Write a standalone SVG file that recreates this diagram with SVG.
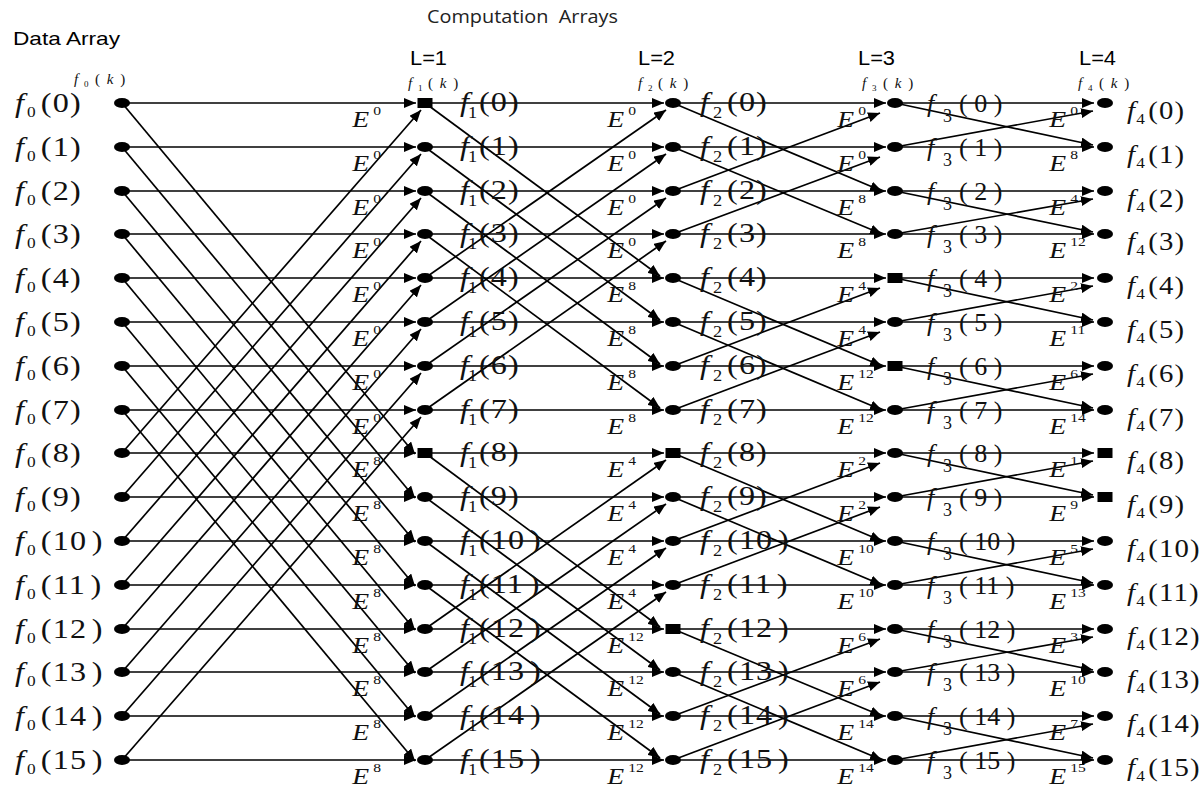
<svg xmlns="http://www.w3.org/2000/svg" width="1204" height="792" viewBox="0 0 1204 792">
<defs>
<marker id="ah" viewBox="0 0 12 10" refX="12" refY="5" markerWidth="12" markerHeight="10" markerUnits="userSpaceOnUse" orient="auto"><path d="M0,0 L12,5 L0,10 z" fill="#000"/></marker>
<style>
.ln{fill:none;stroke:#000;stroke-width:1.7;marker-end:url(#ah)}
.t{font-family:"Liberation Serif","Times New Roman",serif;fill:#111}
.i{font-style:italic}
.a{font-size:28px}
.b{font-size:26px}
.c{font-size:25px}
.s0{font-size:15px}
.s1{font-size:16px}
.s3{font-size:18px}
.s4{font-size:15px}
.q{letter-spacing:1px;word-spacing:-4px}
.sx{transform-box:fill-box;transform-origin:0 0;transform:scaleX(1.15)}
.e{font-size:23px;font-style:italic;transform-box:fill-box;transform-origin:0 0;transform:scaleX(1.2)}
.p{font-size:13px;font-style:normal}
.k{font-size:15px;letter-spacing:1.5px}
.ks{font-size:9px}
.h{font-family:"Liberation Sans",Arial,sans-serif;fill:#000}
</style>
</defs>
<rect width="1204" height="792" fill="#fff"/>
<g id="titles">
<text class="h" x="13" y="45" font-size="19" textLength="107" lengthAdjust="spacingAndGlyphs">Data Array</text>
<text x="427" y="23" font-family="'Open Sans',sans-serif" font-size="18" fill="#222" textLength="191" lengthAdjust="spacingAndGlyphs" xml:space="preserve">Computation  Arrays</text>
<text class="h" x="410" y="65" font-size="21" textLength="37" lengthAdjust="spacingAndGlyphs">L=1</text>
<text class="h" x="638" y="65" font-size="21" textLength="37" lengthAdjust="spacingAndGlyphs">L=2</text>
<text class="h" x="858" y="65" font-size="21" textLength="37" lengthAdjust="spacingAndGlyphs">L=3</text>
<text class="h" x="1079" y="65" font-size="21" textLength="37" lengthAdjust="spacingAndGlyphs">L=4</text>
<text class="t k"><tspan class="i" x="74" y="84">f</tspan><tspan class="ks" x="84" y="87">0</tspan><tspan x="95" y="84">( </tspan><tspan class="i">k</tspan><tspan> )</tspan></text>
<text class="t k"><tspan class="i" x="408" y="88">f</tspan><tspan class="ks" x="418" y="91">1</tspan><tspan x="428" y="88">( </tspan><tspan class="i">k</tspan><tspan> )</tspan></text>
<text class="t k"><tspan class="i" x="638" y="88">f</tspan><tspan class="ks" x="648" y="91">2</tspan><tspan x="658" y="88">( </tspan><tspan class="i">k</tspan><tspan> )</tspan></text>
<text class="t k"><tspan class="i" x="862" y="88">f</tspan><tspan class="ks" x="872" y="91">3</tspan><tspan x="883" y="88">( </tspan><tspan class="i">k</tspan><tspan> )</tspan></text>
<text class="t k"><tspan class="i" x="1078" y="88">f</tspan><tspan class="ks" x="1088" y="91">4</tspan><tspan x="1099" y="88">( </tspan><tspan class="i">k</tspan><tspan> )</tspan></text>
</g>
<g id="connectors">
<path class="ln" d="M122 103H416"/><path class="ln" d="M122 147H416"/><path class="ln" d="M122 191H416"/><path class="ln" d="M122 234H416"/>
<path class="ln" d="M122 278H416"/><path class="ln" d="M122 322H416"/><path class="ln" d="M122 366H416"/><path class="ln" d="M122 410H416"/>
<path class="ln" d="M122 453H416"/><path class="ln" d="M122 497H416"/><path class="ln" d="M122 541H416"/><path class="ln" d="M122 585H416"/>
<path class="ln" d="M122 629H416"/><path class="ln" d="M122 672H416"/><path class="ln" d="M122 716H416"/><path class="ln" d="M122 760H416"/>
<path class="ln" d="M122 103L415 454"/><path class="ln" d="M122 147L415 498"/><path class="ln" d="M122 191L415 542"/><path class="ln" d="M122 234L415 586"/>
<path class="ln" d="M122 278L415 630"/><path class="ln" d="M122 322L415 673"/><path class="ln" d="M122 366L415 717"/><path class="ln" d="M122 410L415 761"/>
<path class="ln" d="M122 453L421 110"/><path class="ln" d="M122 497L421 154"/><path class="ln" d="M122 541L421 198"/><path class="ln" d="M122 585L421 241"/>
<path class="ln" d="M122 629L421 285"/><path class="ln" d="M122 672L421 329"/><path class="ln" d="M122 716L421 373"/><path class="ln" d="M122 760L421 417"/>
<path class="ln" d="M425 103H664"/><path class="ln" d="M425 147H664"/><path class="ln" d="M425 191H664"/><path class="ln" d="M425 234H664"/>
<path class="ln" d="M425 278H664"/><path class="ln" d="M425 322H664"/><path class="ln" d="M425 366H664"/><path class="ln" d="M425 410H664"/>
<path class="ln" d="M425 453H664"/><path class="ln" d="M425 497H664"/><path class="ln" d="M425 541H664"/><path class="ln" d="M425 585H664"/>
<path class="ln" d="M425 629H664"/><path class="ln" d="M425 672H664"/><path class="ln" d="M425 716H664"/><path class="ln" d="M425 760H664"/>
<path class="ln" d="M425 103L660 276"/><path class="ln" d="M425 147L660 320"/><path class="ln" d="M425 191L660 364"/><path class="ln" d="M425 234L660 408"/>
<path class="ln" d="M425 453L660 627"/><path class="ln" d="M425 497L660 670"/><path class="ln" d="M425 541L660 714"/><path class="ln" d="M425 585L660 758"/>
<path class="ln" d="M425 278L666 110"/><path class="ln" d="M425 322L666 154"/><path class="ln" d="M425 366L666 198"/><path class="ln" d="M425 410L666 241"/>
<path class="ln" d="M425 629L666 460"/><path class="ln" d="M425 672L666 504"/><path class="ln" d="M425 716L666 548"/><path class="ln" d="M425 760L666 592"/>
<path class="ln" d="M673 103H886"/><path class="ln" d="M673 147H886"/><path class="ln" d="M673 191H886"/><path class="ln" d="M673 234H886"/>
<path class="ln" d="M673 278H886"/><path class="ln" d="M673 322H886"/><path class="ln" d="M673 366H886"/><path class="ln" d="M673 410H886"/>
<path class="ln" d="M673 453H886"/><path class="ln" d="M673 497H886"/><path class="ln" d="M673 541H886"/><path class="ln" d="M673 585H886"/>
<path class="ln" d="M673 629H886"/><path class="ln" d="M673 672H886"/><path class="ln" d="M673 716H886"/><path class="ln" d="M673 760H886"/>
<path class="ln" d="M673 103L882 191"/><path class="ln" d="M673 147L882 234"/><path class="ln" d="M673 278L882 366"/><path class="ln" d="M673 322L882 410"/>
<path class="ln" d="M673 453L882 541"/><path class="ln" d="M673 497L882 585"/><path class="ln" d="M673 629L882 716"/><path class="ln" d="M673 672L882 760"/>
<path class="ln" d="M673 191L880 113"/><path class="ln" d="M673 234L880 157"/><path class="ln" d="M673 366L880 288"/><path class="ln" d="M673 410L880 332"/>
<path class="ln" d="M673 541L880 463"/><path class="ln" d="M673 585L880 507"/><path class="ln" d="M673 716L880 639"/><path class="ln" d="M673 760L880 682"/>
<path class="ln" d="M895 103H1094"/><path class="ln" d="M895 147H1094"/><path class="ln" d="M895 191H1094"/><path class="ln" d="M895 234H1094"/>
<path class="ln" d="M895 278H1094"/><path class="ln" d="M895 322H1094"/><path class="ln" d="M895 366H1094"/><path class="ln" d="M895 410H1094"/>
<path class="ln" d="M895 453H1094"/><path class="ln" d="M895 497H1094"/><path class="ln" d="M895 541H1094"/><path class="ln" d="M895 585H1094"/>
<path class="ln" d="M895 629H1094"/><path class="ln" d="M895 672H1094"/><path class="ln" d="M895 716H1094"/><path class="ln" d="M895 760H1094"/>
<path class="ln" d="M895 103L1093 145"/><path class="ln" d="M895 191L1093 232"/><path class="ln" d="M895 278L1093 320"/><path class="ln" d="M895 366L1093 408"/>
<path class="ln" d="M895 453L1093 495"/><path class="ln" d="M895 541L1093 583"/><path class="ln" d="M895 629L1093 670"/><path class="ln" d="M895 716L1093 758"/>
<path class="ln" d="M895 147L1093 111"/><path class="ln" d="M895 234L1093 199"/><path class="ln" d="M895 322L1093 286"/><path class="ln" d="M895 410L1093 374"/>
<path class="ln" d="M895 497L1093 461"/><path class="ln" d="M895 585L1093 549"/><path class="ln" d="M895 672L1093 637"/><path class="ln" d="M895 760L1093 724"/>
</g>
<g id="col0">
<g id="n0-0"><ellipse cx="122" cy="103" rx="8" ry="5"/><text class="t a sx"><tspan class="i" x="15" y="112">f</tspan><tspan class="s0" x="25.5" y="117">0</tspan><tspan class="q" x="37.5" y="112">(0)</tspan></text></g>
<g id="n0-1"><ellipse cx="122" cy="147" rx="8" ry="5"/><text class="t a sx"><tspan class="i" x="15" y="156">f</tspan><tspan class="s0" x="25.5" y="161">0</tspan><tspan class="q" x="37.5" y="156">(1)</tspan></text></g>
<g id="n0-2"><ellipse cx="122" cy="191" rx="8" ry="5"/><text class="t a sx"><tspan class="i" x="15" y="200">f</tspan><tspan class="s0" x="25.5" y="205">0</tspan><tspan class="q" x="37.5" y="200">(2)</tspan></text></g>
<g id="n0-3"><ellipse cx="122" cy="234" rx="8" ry="5"/><text class="t a sx"><tspan class="i" x="15" y="243">f</tspan><tspan class="s0" x="25.5" y="248">0</tspan><tspan class="q" x="37.5" y="243">(3)</tspan></text></g>
<g id="n0-4"><ellipse cx="122" cy="278" rx="8" ry="5"/><text class="t a sx"><tspan class="i" x="15" y="287">f</tspan><tspan class="s0" x="25.5" y="292">0</tspan><tspan class="q" x="37.5" y="287">(4)</tspan></text></g>
<g id="n0-5"><ellipse cx="122" cy="322" rx="8" ry="5"/><text class="t a sx"><tspan class="i" x="15" y="331">f</tspan><tspan class="s0" x="25.5" y="336">0</tspan><tspan class="q" x="37.5" y="331">(5)</tspan></text></g>
<g id="n0-6"><ellipse cx="122" cy="366" rx="8" ry="5"/><text class="t a sx"><tspan class="i" x="15" y="375">f</tspan><tspan class="s0" x="25.5" y="380">0</tspan><tspan class="q" x="37.5" y="375">(6)</tspan></text></g>
<g id="n0-7"><ellipse cx="122" cy="410" rx="8" ry="5"/><text class="t a sx"><tspan class="i" x="15" y="419">f</tspan><tspan class="s0" x="25.5" y="424">0</tspan><tspan class="q" x="37.5" y="419">(7)</tspan></text></g>
<g id="n0-8"><ellipse cx="122" cy="453" rx="8" ry="5"/><text class="t a sx"><tspan class="i" x="15" y="462">f</tspan><tspan class="s0" x="25.5" y="467">0</tspan><tspan class="q" x="37.5" y="462">(8)</tspan></text></g>
<g id="n0-9"><ellipse cx="122" cy="497" rx="8" ry="5"/><text class="t a sx"><tspan class="i" x="15" y="506">f</tspan><tspan class="s0" x="25.5" y="511">0</tspan><tspan class="q" x="37.5" y="506">(9)</tspan></text></g>
<g id="n0-10"><ellipse cx="122" cy="541" rx="8" ry="5"/><text class="t a sx"><tspan class="i" x="15" y="550">f</tspan><tspan class="s0" x="25.5" y="555">0</tspan><tspan class="q" x="37.5" y="550">(10 )</tspan></text></g>
<g id="n0-11"><ellipse cx="122" cy="585" rx="8" ry="5"/><text class="t a sx"><tspan class="i" x="15" y="594">f</tspan><tspan class="s0" x="25.5" y="599">0</tspan><tspan class="q" x="37.5" y="594">(11 )</tspan></text></g>
<g id="n0-12"><ellipse cx="122" cy="629" rx="8" ry="5"/><text class="t a sx"><tspan class="i" x="15" y="638">f</tspan><tspan class="s0" x="25.5" y="643">0</tspan><tspan class="q" x="37.5" y="638">(12 )</tspan></text></g>
<g id="n0-13"><ellipse cx="122" cy="672" rx="8" ry="5"/><text class="t a sx"><tspan class="i" x="15" y="681">f</tspan><tspan class="s0" x="25.5" y="686">0</tspan><tspan class="q" x="37.5" y="681">(13 )</tspan></text></g>
<g id="n0-14"><ellipse cx="122" cy="716" rx="8" ry="5"/><text class="t a sx"><tspan class="i" x="15" y="725">f</tspan><tspan class="s0" x="25.5" y="730">0</tspan><tspan class="q" x="37.5" y="725">(14 )</tspan></text></g>
<g id="n0-15"><ellipse cx="122" cy="760" rx="8" ry="5"/><text class="t a sx"><tspan class="i" x="15" y="769">f</tspan><tspan class="s0" x="25.5" y="774">0</tspan><tspan class="q" x="37.5" y="769">(15 )</tspan></text></g>
</g>
<g id="col1">
<g id="n1-0"><rect x="417.5" y="98" width="15" height="10"/><text class="t a sx"><tspan class="i" x="460" y="111">f</tspan><tspan class="s1" x="467" y="118">1</tspan><tspan class="q" x="476.5" y="111">(0)</tspan></text></g>
<g id="n1-1"><ellipse cx="425" cy="147" rx="8" ry="5"/><text class="t a sx"><tspan class="i" x="460" y="155">f</tspan><tspan class="s1" x="467" y="162">1</tspan><tspan class="q" x="476.5" y="155">(1)</tspan></text></g>
<g id="n1-2"><ellipse cx="425" cy="191" rx="8" ry="5"/><text class="t a sx"><tspan class="i" x="460" y="199">f</tspan><tspan class="s1" x="467" y="206">1</tspan><tspan class="q" x="476.5" y="199">(2)</tspan></text></g>
<g id="n1-3"><ellipse cx="425" cy="234" rx="8" ry="5"/><text class="t a sx"><tspan class="i" x="460" y="242">f</tspan><tspan class="s1" x="467" y="249">1</tspan><tspan class="q" x="476.5" y="242">(3)</tspan></text></g>
<g id="n1-4"><ellipse cx="425" cy="278" rx="8" ry="5"/><text class="t a sx"><tspan class="i" x="460" y="286">f</tspan><tspan class="s1" x="467" y="293">1</tspan><tspan class="q" x="476.5" y="286">(4)</tspan></text></g>
<g id="n1-5"><ellipse cx="425" cy="322" rx="8" ry="5"/><text class="t a sx"><tspan class="i" x="460" y="330">f</tspan><tspan class="s1" x="467" y="337">1</tspan><tspan class="q" x="476.5" y="330">(5)</tspan></text></g>
<g id="n1-6"><ellipse cx="425" cy="366" rx="8" ry="5"/><text class="t a sx"><tspan class="i" x="460" y="374">f</tspan><tspan class="s1" x="467" y="381">1</tspan><tspan class="q" x="476.5" y="374">(6)</tspan></text></g>
<g id="n1-7"><ellipse cx="425" cy="410" rx="8" ry="5"/><text class="t a sx"><tspan class="i" x="460" y="418">f</tspan><tspan class="s1" x="467" y="425">1</tspan><tspan class="q" x="476.5" y="418">(7)</tspan></text></g>
<g id="n1-8"><rect x="417.5" y="448" width="15" height="10"/><text class="t a sx"><tspan class="i" x="460" y="461">f</tspan><tspan class="s1" x="467" y="468">1</tspan><tspan class="q" x="476.5" y="461">(8)</tspan></text></g>
<g id="n1-9"><ellipse cx="425" cy="497" rx="8" ry="5"/><text class="t a sx"><tspan class="i" x="460" y="505">f</tspan><tspan class="s1" x="467" y="512">1</tspan><tspan class="q" x="476.5" y="505">(9)</tspan></text></g>
<g id="n1-10"><ellipse cx="425" cy="541" rx="8" ry="5"/><text class="t a sx"><tspan class="i" x="460" y="549">f</tspan><tspan class="s1" x="467" y="556">1</tspan><tspan class="q" x="476.5" y="549">(10 )</tspan></text></g>
<g id="n1-11"><ellipse cx="425" cy="585" rx="8" ry="5"/><text class="t a sx"><tspan class="i" x="460" y="593">f</tspan><tspan class="s1" x="467" y="600">1</tspan><tspan class="q" x="476.5" y="593">(11 )</tspan></text></g>
<g id="n1-12"><ellipse cx="425" cy="629" rx="8" ry="5"/><text class="t a sx"><tspan class="i" x="460" y="637">f</tspan><tspan class="s1" x="467" y="644">1</tspan><tspan class="q" x="476.5" y="637">(12 )</tspan></text></g>
<g id="n1-13"><ellipse cx="425" cy="672" rx="8" ry="5"/><text class="t a sx"><tspan class="i" x="460" y="680">f</tspan><tspan class="s1" x="467" y="687">1</tspan><tspan class="q" x="476.5" y="680">(13 )</tspan></text></g>
<g id="n1-14"><ellipse cx="425" cy="716" rx="8" ry="5"/><text class="t a sx"><tspan class="i" x="460" y="724">f</tspan><tspan class="s1" x="467" y="731">1</tspan><tspan class="q" x="476.5" y="724">(14 )</tspan></text></g>
<g id="n1-15"><ellipse cx="425" cy="760" rx="8" ry="5"/><text class="t a sx"><tspan class="i" x="460" y="768">f</tspan><tspan class="s1" x="467" y="775">1</tspan><tspan class="q" x="476.5" y="768">(15 )</tspan></text></g>
</g>
<g id="col2">
<g id="n2-0"><ellipse cx="673" cy="103" rx="8" ry="5"/><text class="t a sx"><tspan class="i" x="700" y="111">f</tspan><tspan class="s1" x="711.3" y="118">2</tspan><tspan class="q" x="723.5" y="111">(0)</tspan></text></g>
<g id="n2-1"><ellipse cx="673" cy="147" rx="8" ry="5"/><text class="t a sx"><tspan class="i" x="700" y="155">f</tspan><tspan class="s1" x="711.3" y="162">2</tspan><tspan class="q" x="723.5" y="155">(1)</tspan></text></g>
<g id="n2-2"><ellipse cx="673" cy="191" rx="8" ry="5"/><text class="t a sx"><tspan class="i" x="700" y="199">f</tspan><tspan class="s1" x="711.3" y="206">2</tspan><tspan class="q" x="723.5" y="199">(2)</tspan></text></g>
<g id="n2-3"><ellipse cx="673" cy="234" rx="8" ry="5"/><text class="t a sx"><tspan class="i" x="700" y="242">f</tspan><tspan class="s1" x="711.3" y="249">2</tspan><tspan class="q" x="723.5" y="242">(3)</tspan></text></g>
<g id="n2-4"><ellipse cx="673" cy="278" rx="8" ry="5"/><text class="t a sx"><tspan class="i" x="700" y="286">f</tspan><tspan class="s1" x="711.3" y="293">2</tspan><tspan class="q" x="723.5" y="286">(4)</tspan></text></g>
<g id="n2-5"><ellipse cx="673" cy="322" rx="8" ry="5"/><text class="t a sx"><tspan class="i" x="700" y="330">f</tspan><tspan class="s1" x="711.3" y="337">2</tspan><tspan class="q" x="723.5" y="330">(5)</tspan></text></g>
<g id="n2-6"><ellipse cx="673" cy="366" rx="8" ry="5"/><text class="t a sx"><tspan class="i" x="700" y="374">f</tspan><tspan class="s1" x="711.3" y="381">2</tspan><tspan class="q" x="723.5" y="374">(6)</tspan></text></g>
<g id="n2-7"><ellipse cx="673" cy="410" rx="8" ry="5"/><text class="t a sx"><tspan class="i" x="700" y="418">f</tspan><tspan class="s1" x="711.3" y="425">2</tspan><tspan class="q" x="723.5" y="418">(7)</tspan></text></g>
<g id="n2-8"><rect x="665.5" y="448" width="15" height="10"/><text class="t a sx"><tspan class="i" x="700" y="461">f</tspan><tspan class="s1" x="711.3" y="468">2</tspan><tspan class="q" x="723.5" y="461">(8)</tspan></text></g>
<g id="n2-9"><ellipse cx="673" cy="497" rx="8" ry="5"/><text class="t a sx"><tspan class="i" x="700" y="505">f</tspan><tspan class="s1" x="711.3" y="512">2</tspan><tspan class="q" x="723.5" y="505">(9)</tspan></text></g>
<g id="n2-10"><ellipse cx="673" cy="541" rx="8" ry="5"/><text class="t a sx"><tspan class="i" x="700" y="549">f</tspan><tspan class="s1" x="711.3" y="556">2</tspan><tspan class="q" x="723.5" y="549">(10 )</tspan></text></g>
<g id="n2-11"><ellipse cx="673" cy="585" rx="8" ry="5"/><text class="t a sx"><tspan class="i" x="700" y="593">f</tspan><tspan class="s1" x="711.3" y="600">2</tspan><tspan class="q" x="723.5" y="593">(11 )</tspan></text></g>
<g id="n2-12"><rect x="665.5" y="624" width="15" height="10"/><text class="t a sx"><tspan class="i" x="700" y="637">f</tspan><tspan class="s1" x="711.3" y="644">2</tspan><tspan class="q" x="723.5" y="637">(12 )</tspan></text></g>
<g id="n2-13"><ellipse cx="673" cy="672" rx="8" ry="5"/><text class="t a sx"><tspan class="i" x="700" y="680">f</tspan><tspan class="s1" x="711.3" y="687">2</tspan><tspan class="q" x="723.5" y="680">(13 )</tspan></text></g>
<g id="n2-14"><ellipse cx="673" cy="716" rx="8" ry="5"/><text class="t a sx"><tspan class="i" x="700" y="724">f</tspan><tspan class="s1" x="711.3" y="731">2</tspan><tspan class="q" x="723.5" y="724">(14 )</tspan></text></g>
<g id="n2-15"><ellipse cx="673" cy="760" rx="8" ry="5"/><text class="t a sx"><tspan class="i" x="700" y="768">f</tspan><tspan class="s1" x="711.3" y="775">2</tspan><tspan class="q" x="723.5" y="768">(15 )</tspan></text></g>
</g>
<g id="col3">
<g id="n3-0"><ellipse cx="895" cy="103" rx="8" ry="5"/><text class="t b"><tspan class="i" x="927" y="112">f</tspan><tspan class="s3" x="943" y="122">3</tspan><tspan x="959" y="112">( 0 )</tspan></text></g>
<g id="n3-1"><ellipse cx="895" cy="147" rx="8" ry="5"/><text class="t b"><tspan class="i" x="927" y="156">f</tspan><tspan class="s3" x="943" y="166">3</tspan><tspan x="959" y="156">( 1 )</tspan></text></g>
<g id="n3-2"><ellipse cx="895" cy="191" rx="8" ry="5"/><text class="t b"><tspan class="i" x="927" y="200">f</tspan><tspan class="s3" x="943" y="210">3</tspan><tspan x="959" y="200">( 2 )</tspan></text></g>
<g id="n3-3"><ellipse cx="895" cy="234" rx="8" ry="5"/><text class="t b"><tspan class="i" x="927" y="243">f</tspan><tspan class="s3" x="943" y="253">3</tspan><tspan x="959" y="243">( 3 )</tspan></text></g>
<g id="n3-4"><rect x="887.5" y="273" width="15" height="10"/><text class="t b"><tspan class="i" x="927" y="287">f</tspan><tspan class="s3" x="943" y="297">3</tspan><tspan x="959" y="287">( 4 )</tspan></text></g>
<g id="n3-5"><ellipse cx="895" cy="322" rx="8" ry="5"/><text class="t b"><tspan class="i" x="927" y="331">f</tspan><tspan class="s3" x="943" y="341">3</tspan><tspan x="959" y="331">( 5 )</tspan></text></g>
<g id="n3-6"><rect x="887.5" y="361" width="15" height="10"/><text class="t b"><tspan class="i" x="927" y="375">f</tspan><tspan class="s3" x="943" y="385">3</tspan><tspan x="959" y="375">( 6 )</tspan></text></g>
<g id="n3-7"><ellipse cx="895" cy="410" rx="8" ry="5"/><text class="t b"><tspan class="i" x="927" y="419">f</tspan><tspan class="s3" x="943" y="429">3</tspan><tspan x="959" y="419">( 7 )</tspan></text></g>
<g id="n3-8"><ellipse cx="895" cy="453" rx="8" ry="5"/><text class="t b"><tspan class="i" x="927" y="462">f</tspan><tspan class="s3" x="943" y="472">3</tspan><tspan x="959" y="462">( 8 )</tspan></text></g>
<g id="n3-9"><ellipse cx="895" cy="497" rx="8" ry="5"/><text class="t b"><tspan class="i" x="927" y="506">f</tspan><tspan class="s3" x="943" y="516">3</tspan><tspan x="959" y="506">( 9 )</tspan></text></g>
<g id="n3-10"><ellipse cx="895" cy="541" rx="8" ry="5"/><text class="t b"><tspan class="i" x="927" y="550">f</tspan><tspan class="s3" x="943" y="560">3</tspan><tspan x="959" y="550">( 10 )</tspan></text></g>
<g id="n3-11"><ellipse cx="895" cy="585" rx="8" ry="5"/><text class="t b"><tspan class="i" x="927" y="594">f</tspan><tspan class="s3" x="943" y="604">3</tspan><tspan x="959" y="594">( 11 )</tspan></text></g>
<g id="n3-12"><ellipse cx="895" cy="629" rx="8" ry="5"/><text class="t b"><tspan class="i" x="927" y="638">f</tspan><tspan class="s3" x="943" y="648">3</tspan><tspan x="959" y="638">( 12 )</tspan></text></g>
<g id="n3-13"><ellipse cx="895" cy="672" rx="8" ry="5"/><text class="t b"><tspan class="i" x="927" y="681">f</tspan><tspan class="s3" x="943" y="691">3</tspan><tspan x="959" y="681">( 13 )</tspan></text></g>
<g id="n3-14"><ellipse cx="895" cy="716" rx="8" ry="5"/><text class="t b"><tspan class="i" x="927" y="725">f</tspan><tspan class="s3" x="943" y="735">3</tspan><tspan x="959" y="725">( 14 )</tspan></text></g>
<g id="n3-15"><ellipse cx="895" cy="760" rx="8" ry="5"/><text class="t b"><tspan class="i" x="927" y="769">f</tspan><tspan class="s3" x="943" y="779">3</tspan><tspan x="959" y="769">( 15 )</tspan></text></g>
</g>
<g id="col4">
<g id="n4-0"><ellipse cx="1105" cy="103" rx="8" ry="5"/><text class="t c sx"><tspan class="i" x="1127" y="119">f</tspan><tspan class="s4" x="1135" y="124">4</tspan><tspan class="q" x="1145.5" y="119">(0)</tspan></text></g>
<g id="n4-1"><ellipse cx="1105" cy="147" rx="8" ry="5"/><text class="t c sx"><tspan class="i" x="1127" y="163">f</tspan><tspan class="s4" x="1135" y="168">4</tspan><tspan class="q" x="1145.5" y="163">(1)</tspan></text></g>
<g id="n4-2"><ellipse cx="1105" cy="191" rx="8" ry="5"/><text class="t c sx"><tspan class="i" x="1127" y="207">f</tspan><tspan class="s4" x="1135" y="212">4</tspan><tspan class="q" x="1145.5" y="207">(2)</tspan></text></g>
<g id="n4-3"><ellipse cx="1105" cy="234" rx="8" ry="5"/><text class="t c sx"><tspan class="i" x="1127" y="250">f</tspan><tspan class="s4" x="1135" y="255">4</tspan><tspan class="q" x="1145.5" y="250">(3)</tspan></text></g>
<g id="n4-4"><ellipse cx="1105" cy="278" rx="8" ry="5"/><text class="t c sx"><tspan class="i" x="1127" y="294">f</tspan><tspan class="s4" x="1135" y="299">4</tspan><tspan class="q" x="1145.5" y="294">(4)</tspan></text></g>
<g id="n4-5"><ellipse cx="1105" cy="322" rx="8" ry="5"/><text class="t c sx"><tspan class="i" x="1127" y="338">f</tspan><tspan class="s4" x="1135" y="343">4</tspan><tspan class="q" x="1145.5" y="338">(5)</tspan></text></g>
<g id="n4-6"><ellipse cx="1105" cy="366" rx="8" ry="5"/><text class="t c sx"><tspan class="i" x="1127" y="382">f</tspan><tspan class="s4" x="1135" y="387">4</tspan><tspan class="q" x="1145.5" y="382">(6)</tspan></text></g>
<g id="n4-7"><ellipse cx="1105" cy="410" rx="8" ry="5"/><text class="t c sx"><tspan class="i" x="1127" y="426">f</tspan><tspan class="s4" x="1135" y="431">4</tspan><tspan class="q" x="1145.5" y="426">(7)</tspan></text></g>
<g id="n4-8"><rect x="1097.5" y="448" width="15" height="10"/><text class="t c sx"><tspan class="i" x="1127" y="469">f</tspan><tspan class="s4" x="1135" y="474">4</tspan><tspan class="q" x="1145.5" y="469">(8)</tspan></text></g>
<g id="n4-9"><rect x="1097.5" y="492" width="15" height="10"/><text class="t c sx"><tspan class="i" x="1127" y="513">f</tspan><tspan class="s4" x="1135" y="518">4</tspan><tspan class="q" x="1145.5" y="513">(9)</tspan></text></g>
<g id="n4-10"><ellipse cx="1105" cy="541" rx="8" ry="5"/><text class="t c sx"><tspan class="i" x="1127" y="557">f</tspan><tspan class="s4" x="1135" y="562">4</tspan><tspan class="q" x="1145.5" y="557">(10)</tspan></text></g>
<g id="n4-11"><ellipse cx="1105" cy="585" rx="8" ry="5"/><text class="t c sx"><tspan class="i" x="1127" y="601">f</tspan><tspan class="s4" x="1135" y="606">4</tspan><tspan class="q" x="1145.5" y="601">(11)</tspan></text></g>
<g id="n4-12"><ellipse cx="1105" cy="629" rx="8" ry="5"/><text class="t c sx"><tspan class="i" x="1127" y="645">f</tspan><tspan class="s4" x="1135" y="650">4</tspan><tspan class="q" x="1145.5" y="645">(12)</tspan></text></g>
<g id="n4-13"><ellipse cx="1105" cy="672" rx="8" ry="5"/><text class="t c sx"><tspan class="i" x="1127" y="688">f</tspan><tspan class="s4" x="1135" y="693">4</tspan><tspan class="q" x="1145.5" y="688">(13)</tspan></text></g>
<g id="n4-14"><ellipse cx="1105" cy="716" rx="8" ry="5"/><text class="t c sx"><tspan class="i" x="1127" y="732">f</tspan><tspan class="s4" x="1135" y="737">4</tspan><tspan class="q" x="1145.5" y="732">(14)</tspan></text></g>
<g id="n4-15"><ellipse cx="1105" cy="760" rx="8" ry="5"/><text class="t c sx"><tspan class="i" x="1127" y="776">f</tspan><tspan class="s4" x="1135" y="781">4</tspan><tspan class="q" x="1145.5" y="776">(15)</tspan></text></g>
</g>
<g id="weights">
<text class="t e" x="352" y="127">E<tspan class="p" x="369.5" y="115">0</tspan></text>
<text class="t e" x="352" y="171">E<tspan class="p" x="369.5" y="159">0</tspan></text>
<text class="t e" x="352" y="215">E<tspan class="p" x="369.5" y="203">0</tspan></text>
<text class="t e" x="352" y="258">E<tspan class="p" x="369.5" y="246">0</tspan></text>
<text class="t e" x="352" y="302">E<tspan class="p" x="369.5" y="290">0</tspan></text>
<text class="t e" x="352" y="346">E<tspan class="p" x="369.5" y="334">0</tspan></text>
<text class="t e" x="352" y="390">E<tspan class="p" x="369.5" y="378">0</tspan></text>
<text class="t e" x="352" y="434">E<tspan class="p" x="369.5" y="422">0</tspan></text>
<text class="t e" x="352" y="477">E<tspan class="p" x="369.5" y="465">8</tspan></text>
<text class="t e" x="352" y="521">E<tspan class="p" x="369.5" y="509">8</tspan></text>
<text class="t e" x="352" y="565">E<tspan class="p" x="369.5" y="553">8</tspan></text>
<text class="t e" x="352" y="609">E<tspan class="p" x="369.5" y="597">8</tspan></text>
<text class="t e" x="352" y="653">E<tspan class="p" x="369.5" y="641">8</tspan></text>
<text class="t e" x="352" y="696">E<tspan class="p" x="369.5" y="684">8</tspan></text>
<text class="t e" x="352" y="740">E<tspan class="p" x="369.5" y="728">8</tspan></text>
<text class="t e" x="352" y="784">E<tspan class="p" x="369.5" y="772">8</tspan></text>
<text class="t e" x="607" y="127">E<tspan class="p" x="624.5" y="115">0</tspan></text>
<text class="t e" x="607" y="171">E<tspan class="p" x="624.5" y="159">0</tspan></text>
<text class="t e" x="607" y="215">E<tspan class="p" x="624.5" y="203">0</tspan></text>
<text class="t e" x="607" y="258">E<tspan class="p" x="624.5" y="246">0</tspan></text>
<text class="t e" x="607" y="302">E<tspan class="p" x="624.5" y="290">8</tspan></text>
<text class="t e" x="607" y="346">E<tspan class="p" x="624.5" y="334">8</tspan></text>
<text class="t e" x="607" y="390">E<tspan class="p" x="624.5" y="378">8</tspan></text>
<text class="t e" x="607" y="434">E<tspan class="p" x="624.5" y="422">8</tspan></text>
<text class="t e" x="607" y="477">E<tspan class="p" x="624.5" y="465">4</tspan></text>
<text class="t e" x="607" y="521">E<tspan class="p" x="624.5" y="509">4</tspan></text>
<text class="t e" x="607" y="565">E<tspan class="p" x="624.5" y="553">4</tspan></text>
<text class="t e" x="607" y="609">E<tspan class="p" x="624.5" y="597">4</tspan></text>
<text class="t e" x="607" y="653">E<tspan class="p" x="624.5" y="641">12</tspan></text>
<text class="t e" x="607" y="696">E<tspan class="p" x="624.5" y="684">12</tspan></text>
<text class="t e" x="607" y="740">E<tspan class="p" x="624.5" y="728">12</tspan></text>
<text class="t e" x="607" y="784">E<tspan class="p" x="624.5" y="772">12</tspan></text>
<text class="t e" x="837" y="127">E<tspan class="p" x="854.5" y="115">0</tspan></text>
<text class="t e" x="837" y="171">E<tspan class="p" x="854.5" y="159">0</tspan></text>
<text class="t e" x="837" y="215">E<tspan class="p" x="854.5" y="203">8</tspan></text>
<text class="t e" x="837" y="258">E<tspan class="p" x="854.5" y="246">8</tspan></text>
<text class="t e" x="837" y="302">E<tspan class="p" x="854.5" y="290">4</tspan></text>
<text class="t e" x="837" y="346">E<tspan class="p" x="854.5" y="334">4</tspan></text>
<text class="t e" x="837" y="390">E<tspan class="p" x="854.5" y="378">12</tspan></text>
<text class="t e" x="837" y="434">E<tspan class="p" x="854.5" y="422">12</tspan></text>
<text class="t e" x="837" y="477">E<tspan class="p" x="854.5" y="465">2</tspan></text>
<text class="t e" x="837" y="521">E<tspan class="p" x="854.5" y="509">2</tspan></text>
<text class="t e" x="837" y="565">E<tspan class="p" x="854.5" y="553">10</tspan></text>
<text class="t e" x="837" y="609">E<tspan class="p" x="854.5" y="597">10</tspan></text>
<text class="t e" x="837" y="653">E<tspan class="p" x="854.5" y="641">6</tspan></text>
<text class="t e" x="837" y="696">E<tspan class="p" x="854.5" y="684">6</tspan></text>
<text class="t e" x="837" y="740">E<tspan class="p" x="854.5" y="728">14</tspan></text>
<text class="t e" x="837" y="784">E<tspan class="p" x="854.5" y="772">14</tspan></text>
<text class="t e" x="1049" y="127">E<tspan class="p" x="1066.5" y="115">0</tspan></text>
<text class="t e" x="1049" y="171">E<tspan class="p" x="1066.5" y="159">8</tspan></text>
<text class="t e" x="1049" y="215">E<tspan class="p" x="1066.5" y="203">4</tspan></text>
<text class="t e" x="1049" y="258">E<tspan class="p" x="1066.5" y="246">12</tspan></text>
<text class="t e" x="1049" y="302">E<tspan class="p" x="1066.5" y="290">2</tspan></text>
<text class="t e" x="1049" y="346">E<tspan class="p" x="1066.5" y="334">11</tspan></text>
<text class="t e" x="1049" y="390">E<tspan class="p" x="1066.5" y="378">6</tspan></text>
<text class="t e" x="1049" y="434">E<tspan class="p" x="1066.5" y="422">14</tspan></text>
<text class="t e" x="1049" y="477">E<tspan class="p" x="1066.5" y="465">1</tspan></text>
<text class="t e" x="1049" y="521">E<tspan class="p" x="1066.5" y="509">9</tspan></text>
<text class="t e" x="1049" y="565">E<tspan class="p" x="1066.5" y="553">5</tspan></text>
<text class="t e" x="1049" y="609">E<tspan class="p" x="1066.5" y="597">13</tspan></text>
<text class="t e" x="1049" y="653">E<tspan class="p" x="1066.5" y="641">3</tspan></text>
<text class="t e" x="1049" y="696">E<tspan class="p" x="1066.5" y="684">10</tspan></text>
<text class="t e" x="1049" y="740">E<tspan class="p" x="1066.5" y="728">7</tspan></text>
<text class="t e" x="1049" y="784">E<tspan class="p" x="1066.5" y="772">15</tspan></text>
</g>
</svg>
